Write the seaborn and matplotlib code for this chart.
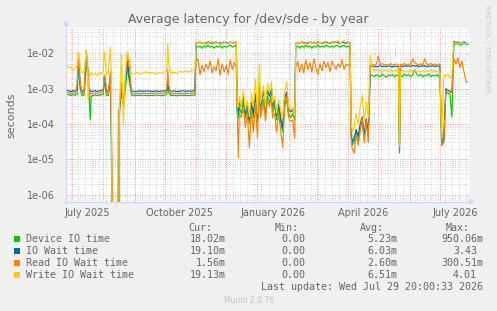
import numpy as np
import pandas as pd
import matplotlib
matplotlib.use("Agg")
import matplotlib.pyplot as plt
import matplotlib.ticker as mticker
from matplotlib.patches import Rectangle
import seaborn as sns

# ---------------- data ----------------
start_date = "2025-06-26"
end_date = "2026-07-30"

# day offsets from start_date
days = [0, 2, 4, 6, 8, 10, 11, 12, 13, 15, 17, 19, 20, 21, 22, 23, 24, 26, 28, 30,
        32, 34, 36, 37, 38, 39, 41, 43, 44, 45, 46, 50, 51, 52, 54, 56, 58, 60, 62, 64,
        67, 70, 73, 76, 79, 82, 85, 88, 91, 94, 97, 99, 100, 101, 103, 106, 109, 112, 115, 118,
        121, 124, 127,
        128, 130, 132, 134, 136, 138, 140, 142, 144, 146, 148, 150, 152, 154, 156, 158, 160, 162, 164, 166, 168,
        169, 170, 171, 173, 175, 177, 179, 181, 183, 185, 187, 189, 191, 192, 195, 197, 199, 201, 203, 204,
        206, 208, 210, 212, 214, 216, 218, 220, 222, 224, 226,
        227, 229, 231, 233, 235, 237, 239, 241, 243, 245, 247, 249, 251, 253, 255, 257, 259, 261, 263, 265,
        267, 269, 271, 273, 275, 277, 279, 281,
        282, 283, 285, 287, 289, 291, 293, 295, 297, 299,
        301, 303, 305, 307, 309, 311, 313, 315, 317, 319, 321, 323, 325, 327, 329, 330, 331, 333, 335, 337,
        339, 341, 343, 345, 347, 349, 351, 353, 355, 357, 359, 361, 363, 365, 367, 369, 370,
        372, 374, 376, 378, 380, 382, 384, 386, 388, 390, 392, 394, 396, 398]

device_io = [7.0e-4, 6.6e-4, 6.4e-4, 6.7e-4, 6.5e-4, 7.2e-4, 2.5e-3, 3.5e-3, 1.0e-3, 6.3e-4,
             6.6e-4, 5e-3, 3e-3, 1.5e-3, 7e-4, 1.3e-4, 6.2e-4, 6.4e-4, 6.6e-4, 6.3e-4,
             6.5e-4, 6.7e-4, 7e-4, 1.5e-3, 1.2e-3, 6.5e-4, 6.4e-4, 1.5e-3, 1e-4, 0.0,
             0.0, 0.0, 0.0, 2e-4, 8e-4, 3e-4, 1e-3, 4e-3, 1.5e-3, 6.6e-4,
             6.3e-4, 6.5e-4, 6.4e-4, 6.6e-4, 6.3e-4, 6.5e-4, 6.4e-4, 6.6e-4, 6.5e-4, 6.3e-4,
             6.6e-4, 7e-4, 1.2e-3, 8e-4, 6.4e-4, 6.5e-4, 6.3e-4, 6.6e-4, 6.4e-4, 6.5e-4,
             6.3e-4, 6.6e-4, 6.5e-4,
             0.016, 0.015, 0.016, 0.014, 0.016, 0.015, 0.017, 0.015, 0.016, 0.014, 0.016, 0.015, 0.016,
             0.014, 0.016, 0.015, 0.016, 0.017, 0.015, 0.016, 0.017,
             2e-4, 1.5e-4, 3e-4, 2e-4, 4e-4, 1.5e-4, 2.5e-4, 1e-4, 3e-4, 1.5e-4, 5e-4, 1.2e-4, 8e-4,
             2e-4, 5e-4, 2e-4, 6e-4, 4e-4, 7e-4, 2e-4,
             3.5e-4, 1.3e-4, 3e-4, 1.2e-4, 6e-5, 3e-4, 5e-4, 2e-4, 1.5e-4, 2e-4, 1.3e-4,
             0.015, 0.016, 0.014, 0.016, 0.015, 0.017, 0.015, 0.016, 0.014, 0.016, 0.015, 0.017,
             0.015, 0.016, 0.015, 0.017, 0.016, 0.015, 0.016, 0.015,
             0.017, 0.016, 0.015, 0.016, 0.017, 0.015, 0.016, 0.015,
             5e-5, 2.5e-5, 3e-5, 6e-5, 3e-5, 8e-5, 1.2e-4, 4e-5, 1e-4, 5e-5,
             2.3e-3, 2.4e-3, 2.2e-3, 2.5e-3, 2.3e-3, 2.2e-3, 2.6e-3, 2.3e-3, 2.1e-3, 2.4e-3,
             2.3e-3, 2.5e-3, 2.2e-3, 2.4e-3, 2.3e-3, 1.5e-5, 2.4e-3, 2.2e-3, 2.6e-3, 2.3e-3,
             2.5e-3, 2.2e-3, 2.4e-3, 3.5e-3, 2.6e-3, 2.3e-3, 2.5e-3, 2.2e-3, 2.4e-3, 2.3e-3,
             2.6e-3, 2.2e-3, 2.4e-3, 2.3e-3, 2.5e-3, 2.2e-3, 2.4e-3,
             2.5e-5, 3e-5, 8e-4, 7.5e-4, 7e-4, 1.6e-4, 0.019, 0.018, 0.019, 0.017, 0.018, 0.019,
             0.018, 0.018]

io_wait = [9.0e-4, 8.6e-4, 8.2e-4, 8.8e-4, 8.4e-4, 9.5e-4, 4e-3, 5e-3, 1.3e-3, 8.3e-4,
           8.6e-4, 7e-3, 5e-3, 2e-3, 9e-4, 9e-4, 8.2e-4, 8.5e-4, 8.7e-4, 8.3e-4,
           8.6e-4, 8.9e-4, 9.5e-4, 2.2e-3, 1.8e-3, 8.5e-4, 8.4e-4, 2e-3, 1e-4, 0.0,
           0.0, 0.0, 0.0, 2.5e-4, 1e-3, 4e-4, 1.5e-3, 6e-3, 2e-3, 8.6e-4,
           8.3e-4, 8.5e-4, 8.6e-4, 8.4e-4, 8.7e-4, 8.5e-4, 8.3e-4, 8.6e-4, 8.4e-4, 8.5e-4,
           8.7e-4, 9e-4, 1.6e-3, 1e-3, 8.4e-4, 8.6e-4, 8.3e-4, 8.5e-4, 8.7e-4, 8.4e-4,
           8.6e-4, 8.5e-4, 8.7e-4,
           0.020, 0.019, 0.021, 0.019, 0.020, 0.019, 0.021, 0.020, 0.019, 0.020, 0.021, 0.019, 0.020,
           0.019, 0.021, 0.020, 0.019, 0.021, 0.020, 0.020, 0.021,
           2.5e-4, 2e-4, 4e-4, 3e-4, 6e-4, 2e-4, 3.5e-4, 1.3e-4, 4e-4, 2e-4, 7e-4, 1.5e-4, 1.2e-3,
           3e-4, 9e-4, 3e-4, 9e-4, 6e-4, 1e-3, 3e-4,
           5e-4, 1.8e-4, 4e-4, 1.5e-4, 8e-5, 5e-4, 8e-4, 3e-4, 2.2e-4, 2.5e-4, 1.8e-4,
           0.019, 0.020, 0.019, 0.021, 0.020, 0.020, 0.019, 0.021, 0.020, 0.020, 0.019, 0.021,
           0.020, 0.019, 0.020, 0.021, 0.020, 0.019, 0.021, 0.020,
           0.021, 0.020, 0.019, 0.021, 0.020, 0.019, 0.021, 0.020,
           8e-5, 3e-5, 4e-5, 7e-5, 4.5e-5, 1e-4, 1.6e-4, 5e-5, 1.4e-4, 6e-5,
           4.3e-3, 4.2e-3, 4.4e-3, 4.1e-3, 4.3e-3, 4.5e-3, 4.2e-3, 4.4e-3, 4.2e-3, 4.5e-3,
           4.3e-3, 4.1e-3, 4.4e-3, 4.2e-3, 4.3e-3, 2e-5, 4.4e-3, 4.2e-3, 4.5e-3, 4.3e-3,
           4.4e-3, 4.2e-3, 4.6e-3, 4.3e-3, 4.5e-3, 4.2e-3, 4.4e-3, 4.3e-3, 4.5e-3, 4.2e-3,
           4.4e-3, 4.3e-3, 4.5e-3, 4.2e-3, 4.4e-3, 4.3e-3, 4.5e-3,
           3e-5, 4e-5, 1e-3, 9e-4, 8.5e-4, 8e-4, 0.022, 0.020, 0.021, 0.019, 0.020, 0.021,
           0.019, 0.019]

read_wait = [8.0e-4, 7.5e-4, 7.2e-4, 7.6e-4, 7.3e-4, 1.2e-3, 7e-3, 4e-3, 1.5e-3, 7.2e-4,
             7.4e-4, 1.2e-2, 8e-3, 3e-3, 8e-4, 7.5e-4, 7e-4, 7.3e-4, 7.5e-4, 7.2e-4,
             7.4e-4, 7.7e-4, 1e-3, 2.5e-3, 2e-3, 7.5e-4, 7.3e-4, 3e-3, 1e-4, 1.1e-6,
             0.0, 0.0, 2.2e-4, 3e-4, 1.5e-3, 3e-4, 2e-3, 1e-2, 4e-3, 7.6e-4,
             7.2e-4, 7.4e-4, 7.3e-4, 7.5e-4, 7.2e-4, 7.4e-4, 7.3e-4, 7.5e-4, 7.4e-4, 7.3e-4,
             7.6e-4, 8e-4, 3.5e-3, 1.2e-3, 7.3e-4, 7.4e-4, 7.2e-4, 7.5e-4, 7.3e-4, 7.4e-4,
             7.3e-4, 7.5e-4, 7.4e-4,
             6e-3, 7e-3, 2.5e-3, 4.5e-3, 3e-3, 5e-3, 3.5e-3, 6e-3, 2.8e-3, 4.2e-3, 3.2e-3, 7e-3, 2.4e-3,
             5e-3, 3e-3, 4.5e-3, 2.6e-3, 6.5e-3, 3.5e-3, 5.5e-3, 4e-3,
             3e-4, 1.1e-5, 2e-4, 1.5e-4, 3e-4, 8e-5, 2e-4, 2.1e-5, 2.5e-4, 6e-5, 4e-4, 4e-5, 1.5e-3,
             1.5e-4, 4e-4, 1.2e-4, 5e-4, 3e-4, 6e-4, 1.5e-4,
             2e-4, 6e-5, 2e-4, 7e-5, 2.2e-5, 3e-4, 6e-4, 1.5e-4, 1.2e-4, 1.3e-4, 4e-5,
             4e-3, 6e-3, 3e-3, 5e-3, 2.8e-3, 6.5e-3, 3.5e-3, 5.5e-3, 3e-3, 7e-3, 4e-3, 2.5e-3,
             5e-3, 3.2e-3, 6e-3, 4e-3, 5.5e-3, 3e-3, 6e-3, 4.5e-3,
             3.5e-3, 5e-3, 4e-3, 6.5e-3, 3.5e-3, 5e-3, 4.5e-3, 5e-3,
             4e-5, 2e-5, 1.5e-5, 5e-5, 2.5e-5, 6e-5, 1.5e-4, 3e-5, 1.2e-4, 3e-5,
             4.5e-3, 4.8e-3, 4.6e-3, 5e-3, 8e-3, 4.7e-3, 5.2e-3, 4.6e-3, 4.9e-3, 4.5e-3,
             5.1e-3, 4.7e-3, 4.8e-3, 5e-3, 4.6e-3, 2e-5, 4.9e-3, 4.7e-3, 5.2e-3, 4.6e-3,
             5e-3, 4.8e-3, 7e-3, 5.5e-3, 5e-3, 4.7e-3, 5.1e-3, 4.6e-3, 7e-3, 5e-3,
             4.8e-3, 5.2e-3, 4.7e-3, 5e-3, 4.6e-3, 4.9e-3, 5e-3,
             2.5e-5, 3e-5, 9e-4, 8.5e-4, 8e-4, 7.5e-4, 7e-3, 5e-3, 7.5e-3, 4e-3, 6e-3, 3e-3,
             1.56e-3, 1.56e-3]

write_wait = [4.6e-3, 3.8e-3, 4.2e-3, 3.3e-3, 3.6e-3, 4.5e-3, 1.1e-2, 9e-3, 4e-3, 2.8e-3,
              3.0e-3, 1.2e-2, 5e-3, 4.5e-4, 2.6e-3, 2.4e-3, 2.9e-3, 2.4e-3, 2.7e-3, 2.3e-3,
              2.8e-3, 2.6e-3, 3.2e-3, 1.1e-2, 6e-3, 2.5e-3, 2.8e-3, 1.5e-2, 3e-3, 0.0,
              0.0, 0.0, 0.0, 2.5e-4, 9e-3, 1.1e-4, 3e-3, 1.1e-2, 6e-3, 2.6e-3,
              2.7e-3, 2.9e-3, 2.6e-3, 2.8e-3, 3.0e-3, 2.7e-3, 2.9e-3, 2.6e-3, 2.8e-3, 2.7e-3,
              3.0e-3, 3.2e-3, 1.9e-2, 5e-3, 2.8e-3, 2.9e-3, 2.7e-3, 3.1e-3, 2.9e-3, 3.2e-3,
              3.0e-3, 3.3e-3, 3.4e-3,
              0.020, 0.019, 0.022, 0.018, 0.021, 0.017, 0.020, 0.019, 0.022, 0.018, 0.021, 0.019, 0.017,
              0.020, 0.022, 0.019, 0.018, 0.021, 0.020, 0.019, 0.022,
              4e-4, 3e-4, 6e-4, 3e-4, 9e-4, 2.5e-4, 4.5e-4, 1.6e-4, 7e-4, 3e-4, 1.8e-3, 2e-4, 5e-3,
              4e-4, 1.2e-3, 3e-4, 1.4e-3, 8e-4, 1.6e-3, 4e-4,
              6e-4, 2e-4, 5e-4, 2.5e-4, 1.5e-4, 8e-4, 1.6e-3, 3e-4, 2.5e-4, 3e-4, 1.7e-4,
              0.018, 0.021, 0.019, 0.022, 0.018, 0.020, 0.017, 0.021, 0.019, 0.022, 0.018, 0.020,
              0.021, 0.019, 0.022, 0.020, 0.018, 0.021, 0.019, 0.022,
              0.020, 0.023, 0.019, 0.021, 0.024, 0.020, 0.022, 0.019,
              1.2e-4, 6e-5, 8e-5, 2e-4, 1e-4, 3e-4, 6.5e-4, 1.2e-4, 4e-4, 1.5e-4,
              9e-3, 4e-3, 3.2e-3, 3.5e-3, 3.1e-3, 3.3e-3, 3.0e-3, 3.4e-3, 3.2e-3, 3.1e-3,
              3.5e-3, 3.0e-3, 3.3e-3, 3.2e-3, 3.4e-3, 2.5e-5, 3.1e-3, 3.3e-3, 3.0e-3, 3.2e-3,
              2.9e-3, 3.3e-3, 3.1e-3, 3.4e-3, 3.0e-3, 3.2e-3, 2.9e-3, 3.3e-3, 3.1e-3, 3.2e-3,
              3.0e-3, 3.4e-3, 3.1e-3, 3.3e-3, 3.0e-3, 3.2e-3, 3.1e-3,
              5e-5, 2.5e-3, 2.2e-3, 2.6e-3, 2.0e-3, 2.4e-3, 0.021, 0.019, 0.020, 0.018, 0.020, 0.019,
              0.019, 0.019]

series_names = ["Device IO time", "IO Wait time", "Read IO Wait time", "Write IO Wait time"]
series_colors = ["#00CC00", "#0066B3", "#FF8000", "#FFCC00"]
cur_vals = ["18.02m", "19.10m", "1.56m", "19.13m"]
min_vals = ["0.00", "0.00", "0.00", "0.00"]
avg_vals = ["5.23m", "6.03m", "2.60m", "6.51m"]
max_vals = ["950.06m", "3.43", "300.51m", "4.01"]
x_label_months = ["2025-07-01", "2025-10-01", "2026-01-01", "2026-04-01", "2026-07-01"]
x_label_texts = ["July 2025", "October 2025", "January 2026", "April 2026", "July 2026"]
y_decades = [1e-6, 1e-5, 1e-4, 1e-3, 1e-2]
y_tick_texts = ["1e-06", "1e-05", "1e-04", "1e-03", "1e-02"]

# ---------------- figure ----------------
W, H = 497, 311
FONT = "#666666"
sns.set_style("white")
plt.rcParams["font.family"] = ["DejaVu Sans"]

fig = plt.figure(figsize=(W / 100, H / 100), dpi=100, facecolor="#F0F0F0")
ax = fig.add_axes([67 / W, 1 - 202 / H, 402 / W, (202 - 27.5) / H])
ax.set_facecolor("#FFFFFF")
for s in ax.spines.values():
    s.set_visible(False)

t0 = pd.Timestamp(start_date)
t1 = pd.Timestamp(end_date)
times = t0 + pd.to_timedelta(days, unit="D")

frames = []
for name, vals in zip(series_names, [device_io, io_wait, read_wait, write_wait]):
    v = np.asarray(vals, dtype=float)
    v = np.where(v > 0, v, 1e-9)  # zero drawn below the axis like rrdtool
    frames.append(pd.DataFrame({"time": times, "value": v, "series": name}))
df = pd.concat(frames, ignore_index=True)

ax.set_yscale("log")
ymin, ymax = 10 ** -6.207, 10 ** -1.27

# grid
grid_gray = "#D6D6D6"
grid_red = "#F3A0A0"
for wk in pd.date_range(t0, t1, freq="W-MON"):
    ax.axvline(wk, color=grid_gray, lw=0.72, ls=(0, (1, 1.5)), zorder=0)
for ms in pd.date_range(t0, t1, freq="MS"):
    ax.axvline(ms, color=grid_red, lw=0.72, ls=(0, (1, 1.5)), zorder=0.5)
for dec in range(-7, 0):
    for m in range(2, 10):
        yv = m * 10.0 ** dec
        if ymin < yv < ymax:
            ax.axhline(yv, color=grid_gray, lw=0.72, ls=(0, (1, 1.5)), zorder=0)
for yv in y_decades:
    ax.axhline(yv, color=grid_red, lw=0.72, ls=(0, (1, 1.5)), zorder=0.5)

sns.lineplot(data=df, x="time", y="value", hue="series", hue_order=series_names,
             palette=series_colors, estimator=None, sort=False, legend=False,
             linewidth=0.85, ax=ax, zorder=3)

ax.set_xlim(t0, t1)
ax.set_ylim(ymin, ymax)
ax.set_xlabel("")
ax.set_ylabel("")

lab_pos = [pd.Timestamp(m) + pd.Timedelta(days=15) for m in x_label_months]
ax.set_xticks(lab_pos)
ax.set_xticklabels(x_label_texts)
ax.xaxis.set_minor_locator(mticker.NullLocator())
ax.set_yticks(y_decades)
ax.set_yticklabels(y_tick_texts)
ax.yaxis.set_minor_locator(mticker.NullLocator())
ax.tick_params(axis="x", length=0, pad=4.0, labelsize=7, labelcolor=FONT)
ax.tick_params(axis="y", length=0, pad=8.5, labelsize=7, labelcolor=FONT)

# axes with arrows
axis_col = "#CFD6F8"
fig.add_artist(plt.Line2D([65.7 / W, 65.7 / W], [1 - 205 / H, 1 - 25 / H], color=axis_col, lw=0.8))
fig.add_artist(plt.Line2D([63 / W, 470 / W], [1 - 201.7 / H, 1 - 201.7 / H], color=axis_col, lw=0.8))
fig.add_artist(plt.Polygon([[62.7 / W, 1 - 26 / H], [68.7 / W, 1 - 26 / H], [65.7 / W, 1 - 20.5 / H]],
                           closed=True, color=axis_col, lw=0))
fig.add_artist(plt.Polygon([[469 / W, 1 - 198.7 / H], [469 / W, 1 - 204.7 / H], [474.5 / W, 1 - 201.7 / H]],
                           closed=True, color=axis_col, lw=0))

# title / labels
fig.text(248.5 / W, 1 - 19 / H, "Average latency for /dev/sde - by year", ha="center", va="center",
         fontsize=9, color=FONT)
fig.text(11.5 / W, 1 - 115 / H, "seconds", ha="center", va="center", rotation=90, fontsize=8, color=FONT)
fig.text(487 / W, 1 - 5 / H, "RRDTOOL / TOBI OETIKER", ha="center", va="top", rotation=270,
         fontsize=5, color="#C8C8C8")

# legend
mono = dict(family=["DejaVu Sans Mono"], fontsize=7.2, color=FONT, va="center")
row_y = [239.3, 251.3, 263.2, 275.2]
fig.text(212.3 / W, 1 - 227.7 / H, "Cur:", ha="right", **mono)
fig.text(298.3 / W, 1 - 227.7 / H, "Min:", ha="right", **mono)
fig.text(384.3 / W, 1 - 227.7 / H, "Avg:", ha="right", **mono)
fig.text(470.0 / W, 1 - 227.7 / H, "Max:", ha="right", **mono)
col_edges = [225.7, 311.0, 397.3, 483.0]
char_w = 6.05


def put_val(xr, y, s):
    if s[-1].isdigit():
        xr = xr - char_w
    fig.text(xr / W, 1 - y / H, s, ha="right", **mono)


for i, name in enumerate(series_names):
    y = row_y[i]
    fig.add_artist(Rectangle((14 / W, 1 - (y + 3) / H), 6 / W, 6 / H, color=series_colors[i], lw=0))
    fig.text(26 / W, 1 - y / H, name, ha="left", **mono)
    for xr, s in zip(col_edges, [cur_vals[i], min_vals[i], avg_vals[i], max_vals[i]]):
        put_val(xr, y, s)

fig.text(483 / W, 1 - 287.3 / H, "Last update: Wed Jul 29 20:00:33 2026", ha="right", **mono)
fig.text(248.5 / W, 1 - 300.5 / H, "Munin 2.0.76", ha="center", va="center", fontsize=5.5, color="#C0C0C0")

fig.savefig("out.png", dpi=100, facecolor=fig.get_facecolor())
